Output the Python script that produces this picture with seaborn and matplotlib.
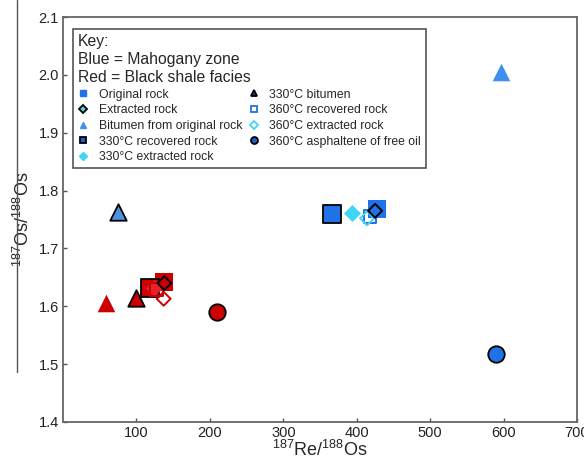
import matplotlib

matplotlib.use("Agg")

import matplotlib.pyplot as plt
import pandas as pd
import seaborn as sns
from matplotlib.lines import Line2D

# sample types (legend order)
sample_types = [
    "Original rock",
    "Extracted rock",
    "Bitumen from original rock",
    "330°C recovered rock",
    "330°C extracted rock",
    "330°C bitumen",
    "360°C recovered rock",
    "360°C extracted rock",
    "360°C asphaltene of free oil",
]

# Blue = Mahogany zone
mahogany_re_os = [428, 425, 597, 366, 393, 75, 418, 414, 590]
mahogany_os_os = [1.768, 1.765, 2.005, 1.760, 1.761, 1.763, 1.755, 1.752, 1.518]

# Red = Black shale facies
shale_re_os = [138, 138, 59, 119, 124, 99, 127, 137, 210]
shale_os_os = [1.642, 1.640, 1.605, 1.632, 1.631, 1.614, 1.629, 1.613, 1.590]

x_ticks = [100, 200, 300, 400, 500, 600, 700]
y_ticks = [1.4, 1.5, 1.6, 1.7, 1.8, 1.9, 2.0, 2.1]

BLUE = "#1f72e8"
BLUE_TRI = "#3f8ff0"
CYAN = "#3fd6f5"
RED = "#cc0000"
RED_LIGHT = "#e8202a"

# marker, size, filled, edge (None = same as fill)
styles = {
    "Original rock": ("s", 160, True, None),
    "Extracted rock": ("D", 50, "none", "black"),
    "Bitumen from original rock": ("^", 160, True, None),
    "330°C recovered rock": ("s", 160, True, "black"),
    "330°C extracted rock": ("D", 75, True, None),
    "330°C bitumen": ("^", 140, True, "black"),
    "360°C recovered rock": ("s", 80, "none", None),
    "360°C extracted rock": ("D", 50, "none", None),
    "360°C asphaltene of free oil": ("o", 140, True, "black"),
}

df = pd.concat(
    [
        pd.DataFrame({"x": mahogany_re_os, "y": mahogany_os_os,
                      "sample": sample_types, "facies": "Mahogany zone"}),
        pd.DataFrame({"x": shale_re_os, "y": shale_os_os,
                      "sample": sample_types, "facies": "Black shale facies"}),
    ],
    ignore_index=True,
)


def point_color(sample: str, facies: str) -> str:
    if facies == "Mahogany zone":
        if sample in ("330°C extracted rock", "360°C extracted rock"):
            return CYAN
        if sample == "Bitumen from original rock":
            return BLUE_TRI
        if sample == "330°C bitumen":
            return "#4d92e0"
        return BLUE
    if sample == "330°C extracted rock":
        return RED_LIGHT
    return RED


sns.set_theme(style="ticks")
plt.rcParams["font.family"] = ["Liberation Sans", "DejaVu Sans"]
plt.rcParams["mathtext.fontset"] = "custom"
plt.rcParams["mathtext.rm"] = "Liberation Sans"

fig = plt.figure(figsize=(5.84, 4.63), dpi=100)
ax = fig.add_axes([0.108, 0.0886, 0.88, 0.8746])

for (sample, facies), sub in df.groupby(["sample", "facies"], sort=False):
    marker, size, filled, edge = styles[sample]
    col = point_color(sample, facies)
    kws = dict(marker=marker, s=size, color=col, zorder=3)
    if filled == "none":
        kws["facecolor"] = "none"
        kws["edgecolor"] = edge or col
        kws["linewidth"] = 1.4
    else:
        kws["edgecolor"] = edge or col
        kws["linewidth"] = 1.3 if edge else 0
    if sample == "Extracted rock":
        kws["zorder"] = 4
    sns.scatterplot(data=sub, x="x", y="y", ax=ax, legend=False, **kws)

ax.set_xlim(0, 700)
ax.set_ylim(1.4, 2.1)
ax.set_xticks(x_ticks)
ax.set_yticks(y_ticks)
ax.set_yticklabels([f"{v:.1f}" for v in y_ticks])
ax.tick_params(direction="in", length=3, width=1, colors="#555555",
               labelcolor="#222222", labelsize=10.5, pad=3)
for side in ["left", "right", "top", "bottom"]:
    ax.spines[side].set_visible(True)
    ax.spines[side].set_color("#666666")
    ax.spines[side].set_linewidth(1.3)

ax.set_xlabel(r"$^{187}\mathregular{Re/}^{188}\mathregular{Os}$", fontsize=13, labelpad=0)
ax.set_ylabel(r"$^{187}\mathregular{Os/}^{188}\mathregular{Os}$", fontsize=13, labelpad=4)

# legend key (small dark markers as in the original)
legend_marks = [
    ("s", BLUE, BLUE, 1.0),
    ("D", "#5fd8d8", "black", 1.3),
    ("^", BLUE_TRI, BLUE_TRI, 1.0),
    ("s", "#1f5fc8", "black", 1.3),
    ("D", CYAN, CYAN, 1.0),
    ("^", "#1a3f7a", "black", 1.3),
    ("s", "white", BLUE, 1.3),
    ("D", "white", CYAN, 1.3),
    ("o", "#1f5fc8", "black", 1.3),
]
handles = [
    Line2D([], [], linestyle="none", marker=m, markersize=5 if m != "D" else 4,
           markerfacecolor=fc, markeredgecolor=ec, markeredgewidth=mew)
    for m, fc, ec, mew in legend_marks
]
leg = ax.legend(
    handles,
    sample_types,
    title="Key:\nBlue = Mahogany zone\nRed = Black shale facies",
    title_fontsize=11.3,
    fontsize=8.8,
    ncol=2,
    loc="upper left",
    bbox_to_anchor=(0.02, 0.970),
    alignment="left",
    frameon=True,
    fancybox=False,
    framealpha=1,
    edgecolor="#555555",
    handlelength=0.8,
    handletextpad=0.9,
    labelspacing=0.3,
    columnspacing=0.5,
    borderpad=0.4,
    borderaxespad=0,
)
leg.get_frame().set_linewidth(1.2)
leg.get_title().set_linespacing(1.25)

# thin crop line at the far left of the original figure
fig.add_artist(Line2D([17 / 584, 17 / 584], [1.0, 1 - 372 / 463],
                      color="#555555", linewidth=1.0))

fig.savefig("out.png", dpi=100)
